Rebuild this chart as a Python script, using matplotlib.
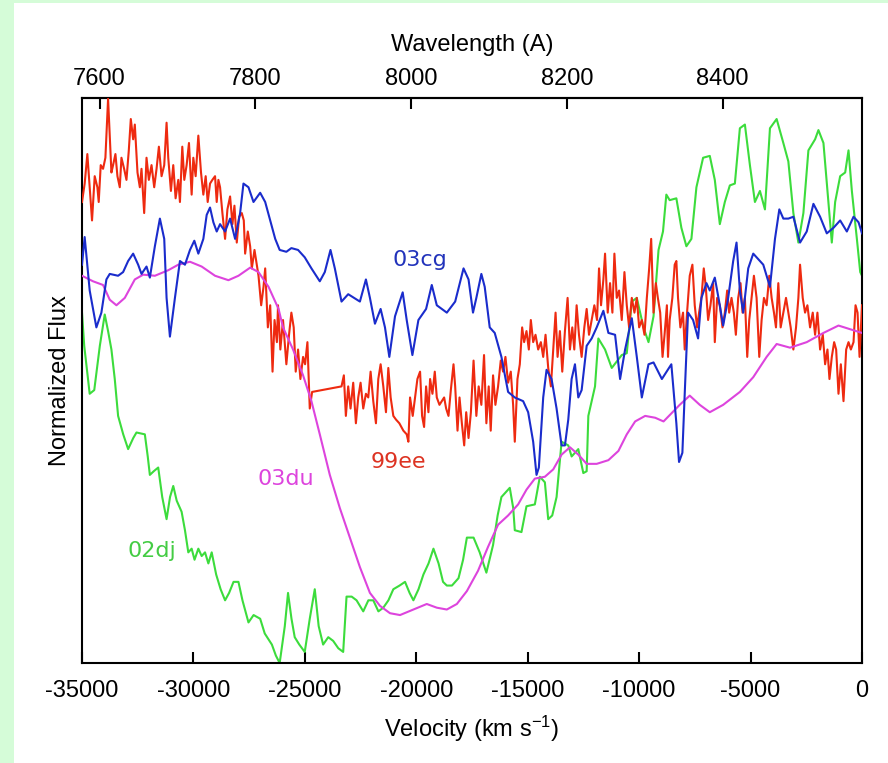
import numpy as np
import matplotlib
matplotlib.use('Agg')
import matplotlib.pyplot as plt
from matplotlib.patches import Rectangle

C_KMS = 299792.458
LAMBDA_0 = 8579.0  # Ca II IR triplet rest wavelength (A)

# 02dj
v_02dj = [-35000, -34900, -34655, -34450, -34200, -33980, -33830, -33680, -33530, -33380,
          -33150, -32930, -32700, -32555, -32180, -32050, -31955, -31780, -31580, -31400,
          -31205, -31050, -30905, -30750, -30530, -30380, -30230, -30080, -29950, -29780,
          -29630, -29480, -29330, -29180, -28980, -28780, -28580, -28400, -28200, -27980,
          -27800, -27530, -27300, -27005, -26800, -26480, -26300, -26130, -25900, -25755,
          -25600, -25455, -25250, -25005, -24780, -24555, -24380, -24180, -23950, -23730,
          -23500, -23280, -23130, -22900, -22680, -22380, -22150, -21930, -21700, -21480,
          -21250, -21030, -20750, -20505, -20300, -20130, -19900, -19680, -19450, -19230,
          -19000, -18800, -18630, -18400, -18105, -17900, -17730, -17430, -17155, -16855,
          -16555, -16350, -16180, -15805, -15650, -15580, -15280, -15055, -14680, -14455,
          -14230, -14080, -13900, -13705, -13480, -13180, -13030, -12730, -12505, -12355,
          -12280, -11980, -11830, -11530, -11230, -10780, -10555, -10330, -10105, -9805,
          -9580, -9355, -9130, -8930, -8780, -8630, -8330, -8105, -7880, -7655,
          -7430, -7130, -6830, -6605, -6380, -6155, -5930, -5705, -5480, -5255,
          -5030, -4805, -4580, -4355, -4130, -3830, -3530, -3305, -3080, -2855,
          -2630, -2405, -2105, -1955, -1730, -1505, -1355, -1205, -980, -755,
          -605, -455, -230, -80, 0]
f_02dj = [0.95, 0.86, 0.73, 0.74, 0.86, 0.945, 0.90, 0.85, 0.77, 0.67,
          0.62, 0.58, 0.61, 0.625, 0.62, 0.56, 0.51, 0.52, 0.53, 0.45,
          0.39, 0.45, 0.48, 0.44, 0.41, 0.36, 0.30, 0.31, 0.28, 0.31,
          0.29, 0.30, 0.27, 0.30, 0.24, 0.20, 0.17, 0.19, 0.22, 0.22,
          0.17, 0.11, 0.13, 0.12, 0.08, 0.05, 0.02, 0.0, 0.10, 0.19,
          0.12, 0.07, 0.05, 0.03, 0.12, 0.20, 0.10, 0.05, 0.07, 0.06,
          0.04, 0.03, 0.18, 0.18, 0.17, 0.14, 0.17, 0.17, 0.14, 0.15,
          0.17, 0.20, 0.21, 0.22, 0.19, 0.17, 0.20, 0.24, 0.27, 0.31,
          0.27, 0.22, 0.21, 0.21, 0.23, 0.28, 0.34, 0.34, 0.30, 0.245,
          0.32, 0.40, 0.45, 0.475, 0.42, 0.36, 0.355, 0.425, 0.43, 0.505,
          0.49, 0.39, 0.40, 0.45, 0.60, 0.59, 0.56, 0.58, 0.515, 0.52,
          0.67, 0.75, 0.88, 0.85, 0.80, 0.835, 0.84, 0.98, 0.99, 0.91,
          0.87, 0.94, 1.12, 1.17, 1.27, 1.255, 1.26, 1.18, 1.13, 1.15,
          1.29, 1.37, 1.375, 1.31, 1.19, 1.25, 1.295, 1.30, 1.45, 1.46,
          1.35, 1.25, 1.28, 1.23, 1.45, 1.475, 1.41, 1.36, 1.22, 1.14,
          1.22, 1.39, 1.42, 1.445, 1.41, 1.25, 1.14, 1.25, 1.32, 1.33,
          1.39, 1.28, 1.15, 1.06, 1.05]

# 03cg
v_03cg = [-35000, -34880, -34655, -34355, -34130, -33905, -33755, -33380, -33155, -32930,
          -32705, -32480, -32330, -32105, -31955, -31730, -31505, -31310, -31205, -31055,
          -30830, -30605, -30380, -30155, -29960, -29780, -29555, -29405, -29255, -29105,
          -28955, -28805, -28580, -28355, -28130, -27905, -27755, -27530, -27305, -27005,
          -26780, -26555, -26330, -26130, -25830, -25605, -25305, -25005, -24705, -24330,
          -24105, -23850, -23655, -23355, -23055, -22530, -22260, -22080, -21855, -21600,
          -21405, -21210, -20955, -20610, -20430, -20175, -19905, -19560, -19305, -19080,
          -18630, -18255, -17880, -17655, -17455, -17305, -17080, -16930, -16705, -16480,
          -16180, -15880, -15580, -15205, -14980, -14755, -14605, -14500, -14305, -14155,
          -13930, -13705, -13480, -13330, -13180, -13030, -12880, -12730, -12580, -12355,
          -12130, -11905, -11605, -11380, -11080, -10855, -10630, -10330, -10105, -9880,
          -9580, -9355, -8980, -8555, -8330, -8210, -8060, -7955, -7805, -7580,
          -7355, -7205, -6980, -6830, -6605, -6410, -6230, -6005, -5780, -5630,
          -5480, -5330, -5105, -4880, -4655, -4430, -4130, -3905, -3710, -3530,
          -3305, -3080, -2780, -2480, -2180, -1880, -1580, -1280, -980, -680,
          -380, -155, 0]
f_03cg = [1.08, 1.155, 1.01, 0.91, 0.95, 1.04, 1.055, 1.05, 1.06, 1.09,
          1.11, 1.08, 1.055, 1.075, 1.045, 1.13, 1.205, 1.15, 0.99, 0.885,
          0.99, 1.09, 1.08, 1.12, 1.145, 1.11, 1.15, 1.215, 1.235, 1.195,
          1.17, 1.19, 1.17, 1.205, 1.15, 1.22, 1.30, 1.29, 1.25, 1.275,
          1.25, 1.20, 1.15, 1.12, 1.115, 1.125, 1.12, 1.10, 1.07, 1.035,
          1.06, 1.12, 1.07, 0.98, 1.00, 0.98, 1.04, 0.99, 0.92, 0.96,
          0.91, 0.83, 0.94, 1.005, 0.93, 0.835, 0.93, 0.96, 1.025, 0.97,
          0.95, 0.98, 1.07, 1.04, 0.95, 0.99, 1.055, 1.02, 0.91, 0.895,
          0.83, 0.735, 0.72, 0.71, 0.68, 0.60, 0.51, 0.53, 0.72, 0.795,
          0.77, 0.69, 0.59, 0.59, 0.66, 0.77, 0.81, 0.72, 0.74, 0.86,
          0.88, 0.91, 0.955, 0.895, 0.89, 0.77, 0.85, 0.935, 0.83, 0.72,
          0.81, 0.815, 0.77, 0.81, 0.65, 0.545, 0.57, 0.73, 0.95, 0.93,
          0.88, 0.99, 1.03, 1.01, 1.045, 0.98, 0.915, 0.99, 1.09, 1.14,
          1.01, 0.95, 1.07, 1.11, 1.095, 1.08, 1.02, 1.15, 1.23, 1.205,
          1.205, 1.21, 1.14, 1.17, 1.245, 1.21, 1.165, 1.18, 1.20, 1.17,
          1.21, 1.195, 1.165]

# 03du
v_03du = [-35000, -34505, -34055, -33755, -33455, -33080, -32630, -32255, -31730, -31130,
          -30680, -30155, -29630, -29030, -28430, -27980, -27455, -27080, -26630, -26180,
          -25980, -25530, -25080, -24705, -24330, -23880, -23430, -22980, -22530, -22080,
          -21630, -21180, -20730, -20130, -19530, -19080, -18630, -18180, -17730, -17230,
          -16780, -16330, -15880, -15430, -15055, -14680, -14230, -13855, -13480, -13105,
          -12730, -12355, -11905, -11380, -10930, -10555, -10180, -9730, -9280, -8905,
          -8180, -7730, -7280, -6830, -6230, -5480, -4880, -4280, -3830, -3230,
          -2480, -1730, -1055, -530, 0]
f_03du = [1.05, 1.035, 1.025, 0.985, 0.97, 0.99, 1.04, 1.053, 1.05, 1.065,
          1.08, 1.088, 1.075, 1.05, 1.038, 1.05, 1.072, 1.06, 1.02, 0.96,
          0.91, 0.85, 0.78, 0.71, 0.62, 0.51, 0.42, 0.34, 0.26, 0.19,
          0.155, 0.135, 0.13, 0.145, 0.16, 0.15, 0.145, 0.16, 0.195, 0.25,
          0.315, 0.375, 0.40, 0.43, 0.47, 0.50, 0.505, 0.525, 0.565, 0.585,
          0.565, 0.54, 0.54, 0.55, 0.575, 0.62, 0.655, 0.67, 0.665, 0.655,
          0.70, 0.725, 0.70, 0.68, 0.70, 0.735, 0.775, 0.83, 0.865, 0.855,
          0.87, 0.895, 0.915, 0.905, 0.895]

# 99ee (no coverage between -24675 and -23355 km/s)
v_99ee = [-35000, -34880, -34760, -34655, -34550, -34430, -34310, -34250, -34160, -34055,
          -33950, -33830, -33755, -33680, -33605, -33500, -33410, -33305, -33230, -33110,
          -33005, -32900, -32810, -32705, -32630, -32510, -32405, -32330, -32210, -32105,
          -32000, -31880, -31760, -31655, -31550, -31430, -31310, -31205, -31130, -31010,
          -30905, -30800, -30680, -30605, -30500, -30410, -30305, -30200, -30080, -30005,
          -29900, -29780, -29660, -29555, -29450, -29360, -29255, -29150, -29030, -28955,
          -28880, -28805, -28700, -28580, -28475, -28355, -28250, -28160, -28055, -27950,
          -27830, -27740, -27680, -27560, -27455, -27380, -27260, -27155, -27080, -26960,
          -26855, -26780, -26660, -26555, -26450, -26360, -26255, -26205, -26100, -25980,
          -25830, -25710, -25605, -25500, -25410, -25305, -25200, -25080, -24990, -24885,
          -24780, -24675, -23355, -23250, -23160, -23055, -22950, -22830, -22710, -22605,
          -22500, -22380, -22260, -22155, -22050, -21930, -21810, -21705, -21600, -21480,
          -21360, -21255, -21150, -21030, -20910, -20760, -20580, -20430, -20355, -20280,
          -20160, -20055, -19950, -19830, -19740, -19650, -19560, -19455, -19380, -19275,
          -19170, -19080, -18960, -18855, -18750, -18660, -18555, -18450, -18330, -18255,
          -18150, -18060, -17955, -17850, -17760, -17655, -17550, -17430, -17305, -17200,
          -17080, -16960, -16855, -16750, -16660, -16555, -16450, -16330, -16210, -16105,
          -16000, -15880, -15760, -15655, -15580, -15460, -15355, -15250, -15160, -15055,
          -14950, -14860, -14755, -14650, -14530, -14410, -14305, -14200, -14080, -13960,
          -13855, -13750, -13660, -13555, -13450, -13330, -13210, -13105, -13000, -12910,
          -12805, -12700, -12580, -12460, -12355, -12250, -12130, -12010, -11890, -11800,
          -11710, -11605, -11530, -11410, -11305, -11200, -11110, -11005, -10900, -10780,
          -10660, -10555, -10450, -10330, -10210, -10105, -10000, -9880, -9760, -9655,
          -9550, -9460, -9355, -9250, -9160, -9055, -8950, -8860, -8755, -8705,
          -8630, -8510, -8405, -8330, -8255, -8150, -8030, -7955, -7850, -7730,
          -7610, -7505, -7400, -7310, -7205, -7100, -7010, -6905, -6800, -6680,
          -6605, -6500, -6380, -6260, -6155, -6050, -5960, -5855, -5750, -5660,
          -5555, -5450, -5360, -5255, -5150, -5060, -4955, -4850, -4730, -4610,
          -4505, -4400, -4280, -4160, -4055, -3950, -3860, -3755, -3650, -3530,
          -3410, -3305, -3200, -3080, -2960, -2855, -2780, -2660, -2555, -2450,
          -2330, -2210, -2105, -2000, -1880, -1760, -1655, -1550, -1460, -1355,
          -1250, -1160, -1055, -950, -830, -710, -605, -500, -380, -290,
          -200, -110, 0]
f_99ee = [1.25, 1.30, 1.38, 1.29, 1.20, 1.32, 1.29, 1.25, 1.35, 1.34,
          1.37, 1.53, 1.43, 1.33, 1.35, 1.38, 1.32, 1.29, 1.37, 1.34,
          1.31, 1.39, 1.475, 1.42, 1.46, 1.33, 1.29, 1.34, 1.22, 1.37,
          1.31, 1.35, 1.29, 1.34, 1.40, 1.32, 1.35, 1.465, 1.37, 1.28,
          1.35, 1.26, 1.31, 1.25, 1.40, 1.31, 1.35, 1.41, 1.27, 1.37,
          1.32, 1.43, 1.33, 1.27, 1.32, 1.25, 1.30, 1.31, 1.32, 1.25,
          1.31, 1.29, 1.22, 1.15, 1.23, 1.265, 1.19, 1.24, 1.14, 1.21,
          1.22, 1.20, 1.11, 1.17, 1.13, 1.07, 1.12, 1.08, 1.05, 0.97,
          1.02, 1.07, 0.91, 0.97, 0.79, 0.93, 0.87, 0.97, 0.85, 0.93,
          0.81, 0.89, 0.95, 0.91, 0.79, 0.85, 0.77, 0.83, 0.81, 0.87,
          0.69, 0.735, 0.75, 0.78, 0.67, 0.75, 0.69, 0.76, 0.65, 0.72,
          0.76, 0.69, 0.73, 0.72, 0.79, 0.71, 0.65, 0.77, 0.81, 0.75,
          0.68, 0.80, 0.72, 0.67, 0.66, 0.65, 0.63, 0.62, 0.60, 0.72,
          0.67, 0.72, 0.77, 0.79, 0.67, 0.64, 0.75, 0.68, 0.77, 0.73,
          0.79, 0.72, 0.70, 0.71, 0.72, 0.69, 0.67, 0.74, 0.81, 0.75,
          0.63, 0.72, 0.65, 0.59, 0.68, 0.61, 0.68, 0.82, 0.67, 0.75,
          0.70, 0.835, 0.65, 0.75, 0.63, 0.78, 0.70, 0.75, 0.82, 0.79,
          0.83, 0.76, 0.79, 0.70, 0.60, 0.77, 0.81, 0.91, 0.87, 0.90,
          0.85, 0.93, 0.87, 0.89, 0.85, 0.87, 0.83, 0.89, 0.80, 0.75,
          0.85, 0.95, 0.83, 0.90, 0.79, 0.90, 0.99, 0.85, 0.91, 0.85,
          0.97, 0.89, 0.83, 0.91, 0.96, 0.89, 0.93, 0.97, 0.93, 1.07,
          0.97, 1.04, 1.11, 0.95, 1.03, 0.95, 1.11, 0.99, 1.01, 0.93,
          1.06, 0.97, 0.91, 0.99, 0.95, 0.99, 0.91, 0.93, 0.89, 0.99,
          1.07, 1.15, 0.95, 1.03, 0.99, 0.95, 0.83, 0.89, 0.97, 0.83,
          0.93, 0.99, 1.08, 1.09, 0.99, 0.91, 0.95, 0.85, 0.95, 1.05,
          1.08, 0.97, 0.91, 0.95, 0.99, 1.07, 1.02, 0.93, 0.97, 1.03,
          0.87, 0.99, 0.97, 0.91, 0.95, 1.01, 0.95, 0.99, 0.95, 0.89,
          0.99, 1.03, 0.95, 0.99, 0.83, 0.93, 0.99, 1.05, 0.99, 0.83,
          0.93, 0.99, 0.97, 1.05, 0.99, 0.95, 0.91, 1.03, 0.91, 0.95,
          0.99, 0.95, 0.91, 0.85, 0.91, 0.99, 1.08, 0.99, 0.95, 0.97,
          0.91, 0.95, 0.89, 0.95, 0.85, 0.89, 0.81, 0.85, 0.77, 0.83,
          0.87, 0.85, 0.73, 0.81, 0.71, 0.85, 0.87, 0.85, 0.87, 0.97,
          0.95, 0.83, 0.97]

# name, position of the name tag (km/s, flux)
labels = ['02dj', '03du', '99ee', '03cg']
label_v = [-31860, -25850, -20820, -19830]
label_f = [0.305, 0.50, 0.545, 1.093]

line_colors = {'02dj': '#3cdc3c', '03du': '#dd44dd', '99ee': '#ee2a10', '03cg': '#1a2ccc'}
text_colors = {'02dj': '#44cc44', '03du': '#dd44dd', '99ee': '#dd3322', '03cg': '#2233bb'}

plt.rcParams['font.family'] = 'Liberation Sans'
plt.rcParams['axes.unicode_minus'] = False
plt.rcParams['mathtext.fontset'] = 'custom'
plt.rcParams['mathtext.rm'] = 'Liberation Sans'
plt.rcParams['mathtext.it'] = 'Liberation Sans'
plt.rcParams['mathtext.default'] = 'rm'


def vel_to_wave(v):
    return LAMBDA_0 * (1.0 + np.asarray(v, dtype=float) / C_KMS)


def wave_to_vel(w):
    return (np.asarray(w, dtype=float) / LAMBDA_0 - 1.0) * C_KMS


fig = plt.figure(figsize=(8.88, 7.63), dpi=100)
fig.patch.set_facecolor('white')
# light green frame on the left and top edges
fig.patches.append(Rectangle((0, 0), 14 / 888, 1, transform=fig.transFigure,
                             facecolor='#d5fcd8', edgecolor='none', zorder=0))
fig.patches.append(Rectangle((0, 1 - 3 / 763), 1, 3 / 763, transform=fig.transFigure,
                             facecolor='#d5fcd8', edgecolor='none', zorder=0))

ax = fig.add_axes([82 / 888, 100 / 763, 780 / 888, 565 / 763])

ax.plot(v_02dj, f_02dj, color=line_colors['02dj'], lw=1.5, zorder=2)
ax.plot(v_99ee, f_99ee, color=line_colors['99ee'], lw=1.5, zorder=3)
ax.plot(v_03du, f_03du, color=line_colors['03du'], lw=1.5, zorder=4)
ax.plot(v_03cg, f_03cg, color=line_colors['03cg'], lw=1.5, zorder=5)

for name, lv, lf in zip(labels, label_v, label_f):
    ax.text(lv, lf, name, color=text_colors[name], fontsize=16, family='DejaVu Sans',
            ha='center', va='center', zorder=6)

ax.set_xlim(-35000, 0)
ax.set_ylim(0, 1.532)
ax.set_yticks([])
ax.set_xticks(np.arange(-35000, 1, 5000))
ax.tick_params(axis='x', direction='in', length=8, width=1.5, labelsize=17, pad=12)
for s in ax.spines.values():
    s.set_linewidth(1.5)

ax.set_xlabel('Velocity (km s$^{-1}$)', fontsize=17, labelpad=9)
ax.set_ylabel('Normalized Flux', fontsize=17, labelpad=8)

top = ax.secondary_xaxis('top', functions=(vel_to_wave, wave_to_vel))
top.set_xticks([7600, 7800, 8000, 8200, 8400])
top.tick_params(direction='in', length=8, width=1.5, labelsize=17, pad=6)
top.spines['top'].set_linewidth(1.5)
top.set_xlabel('Wavelength (A)', fontsize=17, labelpad=12)

fig.savefig('out.png', dpi=100)
